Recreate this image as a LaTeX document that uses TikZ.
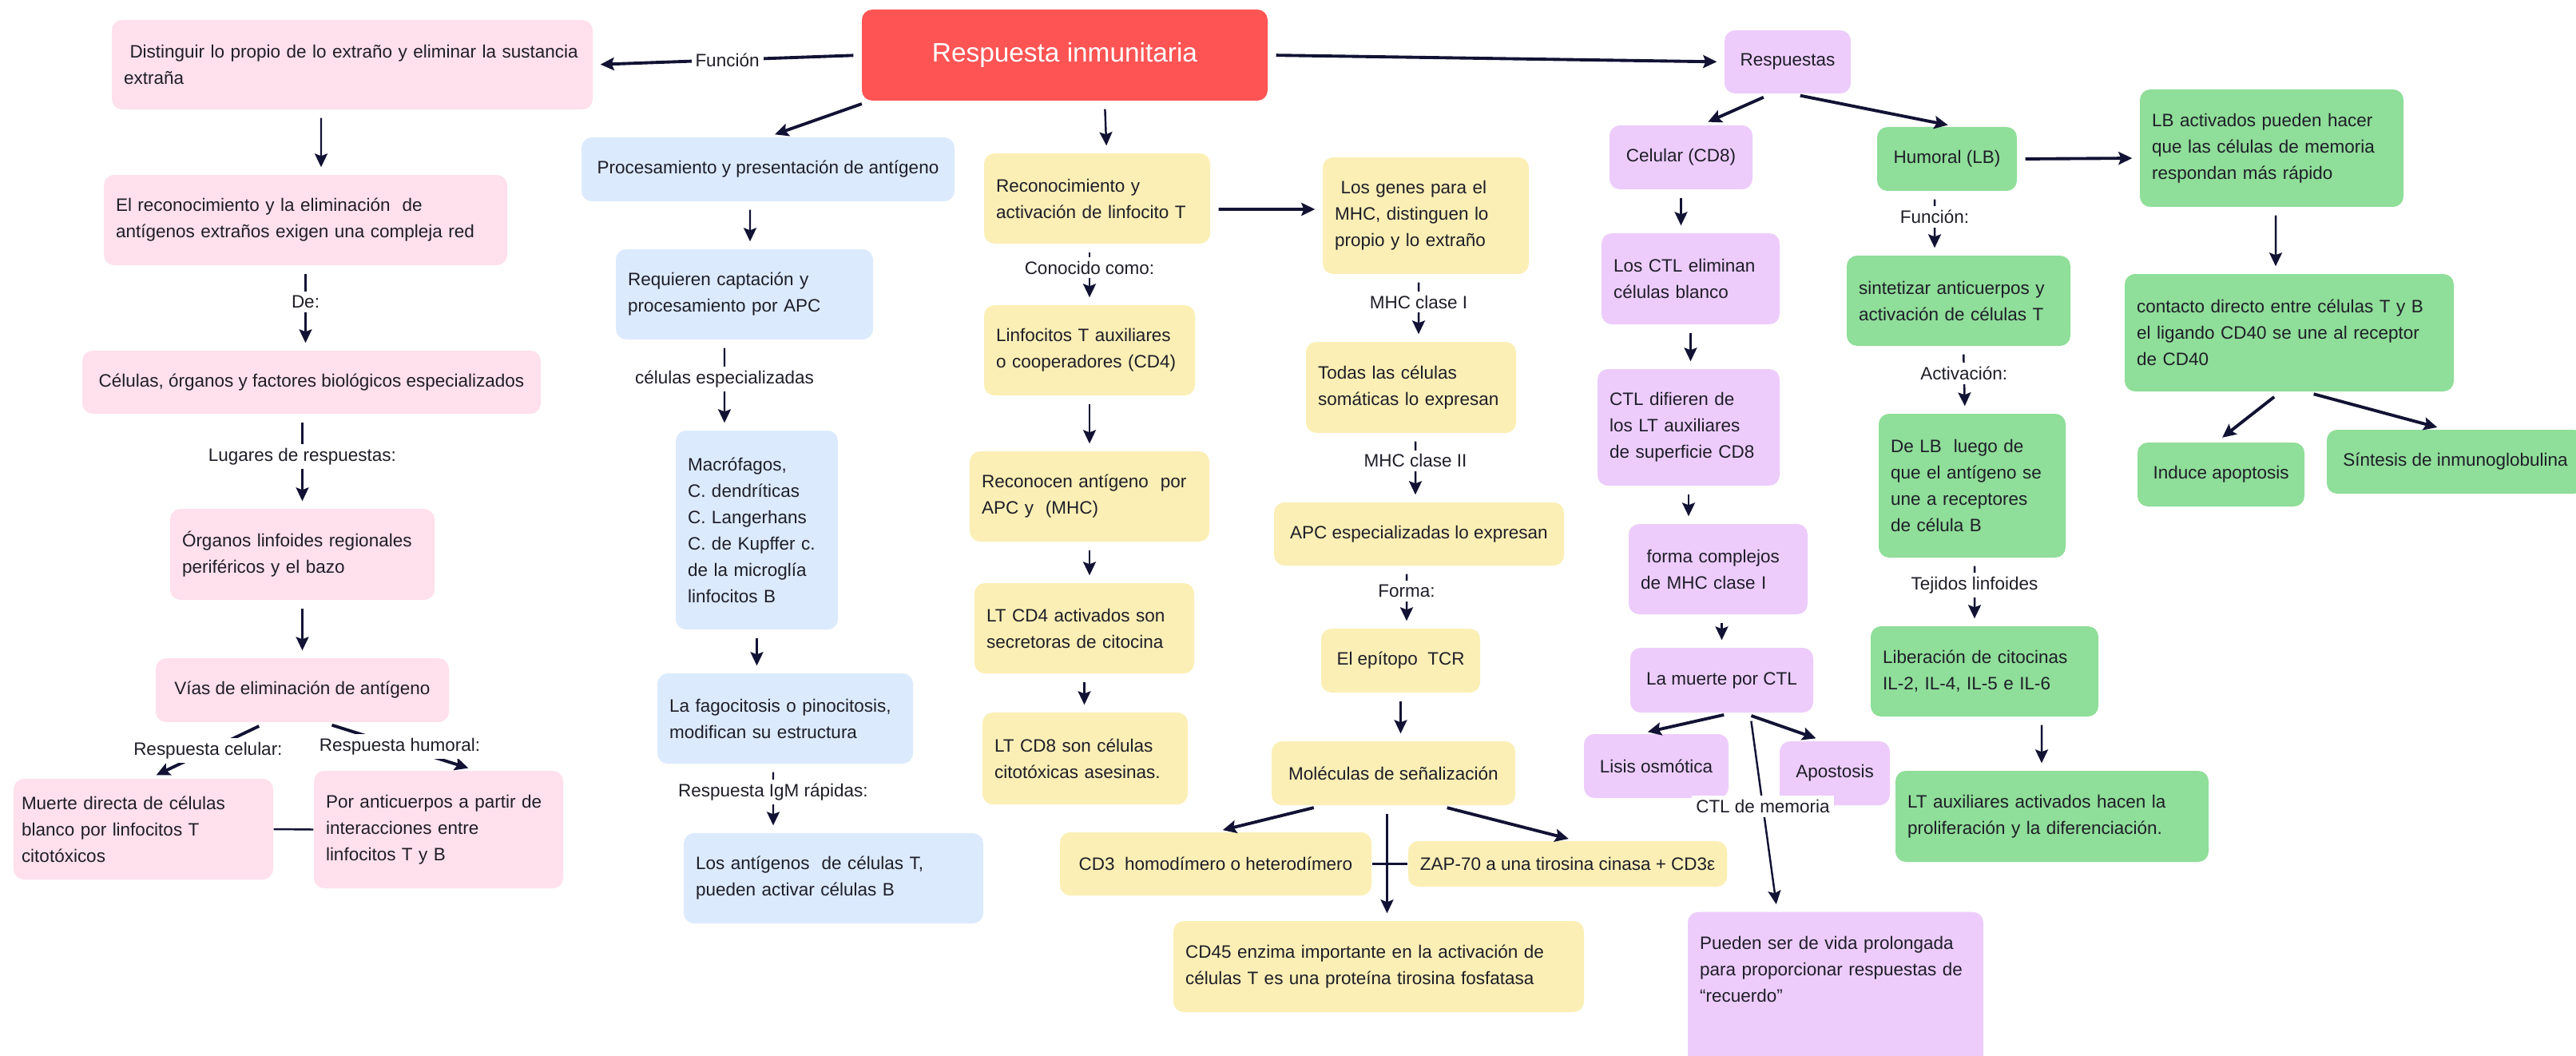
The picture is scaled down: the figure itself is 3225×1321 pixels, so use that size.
\documentclass[tikz,border=0pt]{standalone}
\usepackage{fontspec}
\setmainfont{Liberation Sans}
\usetikzlibrary{arrows.meta}
\definecolor{ink}{RGB}{18,18,52}
\definecolor{txt}{RGB}{30,30,40}
\definecolor{rojo}{RGB}{255,84,84}
\definecolor{rosa}{RGB}{255,224,236}
\definecolor{azul}{RGB}{220,234,253}
\definecolor{amar}{RGB}{251,239,181}
\definecolor{lila}{RGB}{237,204,251}
\definecolor{verde}{RGB}{143,222,153}

\begin{document}
\begin{tikzpicture}[x=0.1mm,y=-0.1mm]
  \tikzstyle{caja}=[rounded corners=1.3mm,inner xsep=1.5mm,inner ysep=0pt,text=txt,font=\fontsize{6.4}{9.4}\selectfont]
  \tikzstyle{cajaizq}=[caja,align=left]
  \tikzstyle{cajacen}=[caja,align=center]
  \tikzstyle{arr}=[draw=ink,line width=0.7pt,-{Stealth[length=1.7mm,width=1.6mm,inset=0.3mm]},shorten <=1mm,shorten >=0.9mm]
  \tikzstyle{thk}=[arr,line width=1.1pt]
  \tikzstyle{lbl}=[fill=white,inner sep=0.5mm,text=txt,font=\fontsize{6.4}{9.4}\selectfont]
  \useasboundingbox (0,0) rectangle (3225,1321);
  \fill[white] (0,0) rectangle (3225,1321);

  % tema central
  \node[cajacen,fill=rojo,text=white,font=\fontsize{9.5}{11}\selectfont,minimum width=50.8mm,minimum height=11.4mm] (titulo) at (1333,69) {Respuesta inmunitaria};

  % rama rosa
  \node[cajaizq,fill=rosa,text width=57.2mm,minimum height=11.2mm] (distinguir) at (441,81) {\ Distinguir lo propio de lo extraño y eliminar la sustancia\\extraña};
  \node[cajaizq,fill=rosa,text width=47.5mm,minimum height=11.3mm] (reconoc) at (382.5,275.5) {El reconocimiento y la eliminación~ de\\antígenos extraños exigen una compleja red};
  \node[cajacen,fill=rosa,minimum width=57.4mm,minimum height=7.9mm] (celulas) at (390,478.5) {Células, órganos y factores biológicos especializados};
  \node[cajaizq,fill=rosa,text width=30.1mm,minimum height=11.4mm] (organos) at (378.5,694) {Órganos linfoides regionales\\periféricos y el bazo};
  \node[cajacen,fill=rosa,minimum width=36.7mm,minimum height=8mm] (vias) at (378.5,864) {Vías de eliminación de antígeno};
  \node[cajaizq,fill=rosa,inner xsep=1mm,text width=30.5mm,minimum height=12.6mm] (muerte) at (179.5,1038) {Muerte directa de células\\blanco por linfocitos T\\citotóxicos};
  \node[cajaizq,fill=rosa,text width=28.2mm,minimum height=14.7mm] (anticuerpos) at (549,1038.5) {Por anticuerpos a partir de\\interacciones entre\\linfocitos T y B};

  % rama azul
  \node[cajacen,fill=azul,minimum width=46.7mm,minimum height=8mm] (procesam) at (961.5,212) {Procesamiento y presentación de antígeno};
  \node[cajaizq,fill=azul,text width=29.2mm,minimum height=11.3mm] (captacion) at (932,368.5) {Requieren captación y\\procesamiento por APC};
  \node[cajaizq,fill=azul,text width=17.3mm,minimum height=24.9mm] (macrof) at (947.5,663.5) {Macrófagos,\\C. dendríticas\\C. Langerhans\\C. de Kupffer c.\\de la microglía\\linfocitos B};
  \node[cajaizq,fill=azul,text width=29mm,minimum height=11.3mm] (fagocit) at (983,899.5) {La fagocitosis o pinocitosis,\\modifican su estructura};
  \node[cajaizq,fill=azul,text width=34.5mm,minimum height=11.3mm] (antigT) at (1043.5,1099.5) {Los antígenos~ de células T,\\pueden activar células B};

  % rama amarilla
  \node[cajaizq,fill=amar,text width=25.3mm,minimum height=11.3mm] (activT) at (1373.5,248.5) {Reconocimiento y\\activación de linfocito T};
  \node[cajaizq,fill=amar,text width=23.4mm,minimum height=11.3mm] (auxil) at (1364,438.5) {Linfocitos T auxiliares\\o cooperadores (CD4)};
  \node[cajaizq,fill=amar,text width=27mm,minimum height=11.3mm] (reconAPC) at (1364,621.5) {Reconocen antígeno~ por\\APC y~ (MHC)};
  \node[cajaizq,fill=amar,text width=24.5mm,minimum height=11.3mm] (cdcuatro) at (1357.5,786.5) {LT CD4 activados son\\secretoras de citocina};
  \node[cajaizq,fill=amar,text width=22.7mm,minimum height=11.5mm] (cdocho) at (1358.5,949.5) {LT CD8 son células\\citotóxicas asesinas.};
  \node[cajaizq,fill=amar,text width=22.8mm,minimum height=14.6mm] (genes) at (1785,270) {\ Los genes para el\\MHC, distinguen lo\\propio y lo extraño};
  \node[cajaizq,fill=amar,text width=23.3mm,minimum height=11.4mm] (somat) at (1766.5,485) {Todas las células\\somáticas lo expresan};
  \node[cajacen,fill=amar,minimum width=36.3mm,minimum height=7.9mm] (apcesp) at (1776.5,668.5) {APC especializadas lo expresan};
  \node[cajacen,fill=amar,minimum width=19.9mm,minimum height=8mm] (epitopo) at (1753.5,827) {El epítopo~ TCR};
  \node[cajacen,fill=amar,minimum width=30.5mm,minimum height=8mm] (molec) at (1744.5,968) {Moléculas de señalización};
  \node[cajacen,fill=amar,minimum width=39mm,minimum height=7.9mm] (cdtres) at (1522,1081.5) {CD3~ homodímero o heterodímero};
  \node[cajacen,fill=amar,minimum width=39.1mm,minimum height=5.7mm] (zap) at (1962.5,1081.5) {ZAP-70 a una tirosina cinasa + CD3ε};
  \node[cajaizq,fill=amar,text width=48.4mm,minimum height=11.4mm] (cdcuarenta) at (1726,1210) {CD45 enzima importante en la activación de\\células T es una proteína tirosina fosfatasa};

  % rama lila
  \node[cajacen,fill=lila,minimum width=15.8mm,minimum height=7.9mm] (respuestas) at (2238,77.5) {Respuestas};
  \node[cajacen,fill=lila,minimum width=17.9mm,minimum height=8mm] (celular) at (2104.5,197) {Celular (CD8)};
  \node[cajaizq,fill=lila,text width=19.3mm,minimum height=11.4mm] (ctlelim) at (2116.5,349) {Los CTL eliminan\\células blanco};
  \node[cajaizq,fill=lila,text width=19.8mm,minimum height=14.6mm] (ctldif) at (2114,535) {CTL difieren de\\los LT auxiliares\\de superficie CD8};
  \node[cajaizq,fill=lila,text width=19.4mm,minimum height=11.3mm] (complejos) at (2151,712.5) {\ forma complejos\\de MHC clase I};
  \node[cajacen,fill=lila,minimum width=22.9mm,minimum height=8.1mm] (muertectl) at (2155.5,851.5) {La muerte por CTL};
  \node[cajacen,fill=lila,minimum width=18.1mm,minimum height=8mm] (lisis) at (2073.5,959) {Lisis osmótica};
  \node[cajacen,fill=lila,minimum width=13.8mm,minimum height=8mm] (apostosis) at (2297,968) {Apostosis};
  \node[cajaizq,fill=lila,anchor=north,inner ysep=3mm,text width=34mm] (memoria) at (2298,1141) {Pueden ser de vida prolongada\\para proporcionar respuestas de\\“recuerdo”\rule[-12mm]{0pt}{0pt}};

  % rama verde
  \node[cajacen,fill=verde,minimum width=17.5mm,minimum height=8mm] (humoral) at (2437.5,199) {Humoral (LB)};
  \node[cajaizq,fill=verde,text width=30mm,minimum height=14.7mm] (lbact) at (2844,185.5) {LB activados pueden hacer\\que las células de memoria\\respondan más rápido};
  \node[cajaizq,fill=verde,text width=38.2mm,minimum height=14.7mm] (contacto) at (2866,416.5) {contacto directo entre células T y B\\el ligando CD40 se une al receptor\\de CD40};
  \node[cajacen,fill=verde,minimum width=20.9mm,minimum height=8mm] (apoptosis) at (2780.5,594) {Induce apoptosis};
  \node[cajacen,fill=verde,minimum width=32.2mm,minimum height=8mm] (sintesis) at (3074,578) {Síntesis de inmunoglobulina};
  \node[cajaizq,fill=verde,text width=25mm,minimum height=11.3mm] (sintet) at (2452,376.5) {sintetizar anticuerpos y\\activación de células T};
  \node[cajaizq,fill=verde,text width=20.4mm,minimum height=18mm] (delb) at (2469,608) {De LB~ luego de\\que el antígeno se\\une a receptores\\de célula B};
  \node[cajaizq,fill=verde,text width=25.5mm,minimum height=11.3mm] (liberac) at (2484.5,840.5) {Liberación de citocinas\\IL-2, IL-4, IL-5 e IL-6};
  \node[cajaizq,fill=verde,text width=36.2mm,minimum height=11.4mm] (ltaux) at (2569,1022) {LT auxiliares activados hacen la\\proliferación y la diferenciación.};

  % conectores desde el tema central
  \draw[thk] (titulo.west) -- node[lbl]{Función} (distinguir.east);
  \draw[thk] ([xshift=1mm]titulo.south west) -- (procesam.north);
  \draw[arr] ([xshift=5mm]titulo.south) -- ([xshift=1.2mm]activT.north);
  \draw[thk] (titulo.east) -- (respuestas.west);

  % rosa
  \draw[arr] ([xshift=-3.9mm]distinguir.south) -- ([xshift=1.95mm]reconoc.north);
  \draw[arr] (reconoc.south) -- node[lbl,pos=.43]{De:} (reconoc.south |- celulas.north);
  \draw[arr] (organos.north |- celulas.south) -- node[lbl,pos=.45]{Lugares de respuestas:} (organos.north);
  \draw[arr] (organos.south) -- (vias.north);
  \draw[thk] ([xshift=13.9mm]vias.south west) -- node[lbl]{Respuesta celular:} ([xshift=0.8mm]muerte.north);
  \draw[thk] ([xshift=2.75mm]vias.south) -- node[lbl]{Respuesta humoral:} ([xshift=4.6mm]anticuerpos.north);
  \draw[ink,line width=0.7pt] (muerte.east) -- (anticuerpos.west);

  % azul
  \draw[arr] ([xshift=-2.25mm]procesam.south) -- ([xshift=0.7mm]captacion.north);
  \draw[arr] ([xshift=-2.5mm]captacion.south) -- node[lbl,pos=.43]{células especializadas} ([xshift=-4.05mm]macrof.north);
  \draw[arr] (macrof.south) -- (macrof.south |- fagocit.north);
  \draw[arr] ([xshift=-1.5mm]fagocit.south) -- node[lbl,pos=.41]{Respuesta IgM rápidas:} ([xshift=-7.55mm]antigT.north);

  % amarillo
  \draw[thk] ([yshift=-1.35mm]activT.east) -- ([yshift=0.8mm]genes.west);
  \draw[arr] (auxil.north |- activT.south) -- node[lbl,pos=.39]{Conocido como:} (auxil.north);
  \draw[arr] (auxil.south) -- (reconAPC.north);
  \draw[arr] (reconAPC.south) -- (reconAPC.south |- cdcuatro.north);
  \draw[arr] (cdcuatro.south) -- (cdcuatro.south |- cdocho.north);
  \draw[arr] ([xshift=-0.9mm]genes.south) -- node[lbl,pos=.41]{MHC clase I} ([xshift=0.95mm]somat.north);
  \draw[arr] ([xshift=0.55mm]somat.south) -- node[lbl,pos=.4]{MHC clase II} ([xshift=-0.45mm]apcesp.north);
  \draw[arr] ([xshift=-1.55mm]apcesp.south) -- node[lbl,pos=.4]{Forma:} ([xshift=0.75mm]epitopo.north);
  \draw[arr] (epitopo.south) -- (epitopo.south |- molec.north);
  \draw[thk] ([xshift=-9mm]molec.south) -- (cdtres.north);
  \draw[thk] ([xshift=5.75mm]molec.south) -- ([xshift=1mm]zap.north);
  \draw[ink,line width=1.1pt] (cdtres.east) -- (zap.west);
  \draw[arr] ([xshift=-0.8mm]molec.south) -- ([xshift=-0.8mm]molec.south |- cdcuarenta.north);

  % lila
  \draw[thk] ([xshift=-2.1mm]respuestas.south) -- ([xshift=2.55mm]celular.north);
  \draw[thk] ([xshift=0.6mm]respuestas.south) -- ([xshift=1mm]humoral.north);
  \draw[arr] (celular.south) -- (celular.south |- ctlelim.north);
  \draw[arr] (ctlelim.south) -- (ctlelim.south |- ctldif.north);
  \draw[arr] (ctldif.south) -- (ctldif.south |- complejos.north);
  \draw[arr] (muertectl.north |- complejos.south) -- (muertectl.north);
  \draw[thk] ([xshift=1.25mm]muertectl.south) -- ([xshift=-1.95mm]lisis.north);
  \draw[thk] ([xshift=2.75mm]muertectl.south) -- ([xshift=-1.5mm]apostosis.north);
  \draw[arr] ([xshift=3.55mm]muertectl.south) -- node[lbl,pos=.47]{CTL de memoria} ([xshift=-7.3mm]memoria.north);

  % verde
  \draw[thk] (humoral.east) -- ([yshift=-1.25mm]lbact.west);
  \draw[arr] ([xshift=-1.55mm]humoral.south) -- node[lbl,pos=.4]{Función:} ([xshift=-3mm]sintet.north);
  \draw[arr] ([xshift=0.6mm]sintet.south) -- node[lbl,pos=.4]{Activación:} ([xshift=-0.9mm]delb.north);
  \draw[arr] ([xshift=0.3mm]delb.south) -- node[lbl,pos=.4]{Tejidos linfoides} ([xshift=-1.25mm]liberac.north);
  \draw[arr] ([xshift=7.15mm]liberac.south) -- ([xshift=-1.3mm]ltaux.north);
  \draw[arr] ([xshift=0.5mm]lbact.south) -- ([xshift=-1.7mm]contacto.north);
  \draw[thk] ([xshift=-1.1mm]contacto.south) -- ([xshift=-0.55mm]apoptosis.north);
  \draw[thk] ([xshift=2.1mm]contacto.south) -- ([xshift=-1.4mm]sintesis.north);
\end{tikzpicture}
\end{document}
